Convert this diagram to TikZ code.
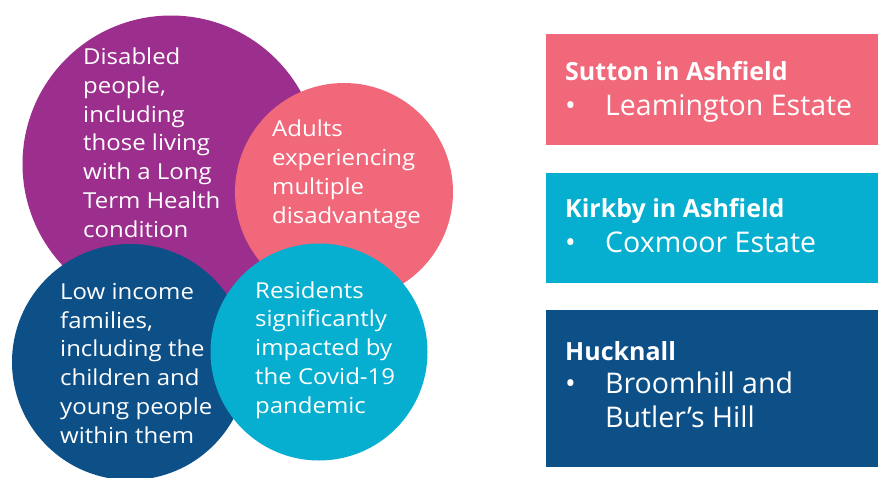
\documentclass[tikz,border=0pt]{standalone}
\usepackage{fontspec}
\setmainfont{Open Sans}
\newfontfamily\discfont[FakeStretch=1.09]{Open Sans}
\usetikzlibrary{positioning}
\definecolor{discpurple}{HTML}{9C2E8D}
\definecolor{disccoral}{HTML}{F0687A}
\definecolor{disccyan}{HTML}{06AECF}
\definecolor{discnavy}{HTML}{0D4F87}
\tikzset{
  disc/.style={circle,inner sep=0pt,minimum size=#1},
  % anchored on the baseline of the last line
  disctext/.style={anchor=base west,align=left,inner sep=0pt,text=white,
                   font=\discfont\fontsize{22}{28.7}\selectfont},
  areabox/.style={anchor=north west,inner sep=0pt,minimum width=332pt},
  areatitle/.style={anchor=base west,inner sep=0pt,text=white,
                    font=\fontsize{25}{34}\selectfont\bfseries},
  areaitem/.style={anchor=base west,align=left,inner sep=0pt,text=white,
                   font=\fontsize{28.5}{34}\selectfont}
}

\begin{document}
\begin{tikzpicture}[x=1pt,y=-1pt]
  \useasboundingbox (0,0) rectangle (878,477);

  % priority groups, back to front
  \node[disc=297pt,fill=discpurple] (disabled) at (171,164) {};
  \node[disc=218pt,fill=disccoral] (adults) at (344,192) {};
  \node[disc=236pt,fill=discnavy] (lowincome) at (130,362) {};
  \node[disc=217pt,fill=disccyan] (residents) at (319,352) {};

  \node[disctext] (disabledtext) at (83,237)
    {Disabled\\people,\\including\\those living\\with a Long\\Term Health\\condition};
  \node[disctext] (adultstext) at (272,223)
    {Adults\\experiencing\\multiple\\disadvantage};
  \node[disctext] (lowincometext) at (60,443)
    {Low income\\families,\\including the\\children and\\young people\\within them};
  \node[disctext] (residentstext) at (255,413)
    {Residents\\significantly\\impacted by\\the Covid-19\\pandemic};

  % places
  \node[areabox,fill=disccoral,minimum height=111pt] (sutton) at (546,34) {};
  \node[areabox,fill=disccyan,minimum height=110pt] (kirkby) at (546,173) {};
  \node[areabox,fill=discnavy,minimum height=157pt] (hucknall) at (546,310) {};

  \node[areatitle] (suttontitle) at (565,80) {Sutton in Ashfield};
  \node[areaitem] (suttonbullet) at (565,115) {•};
  \node[areaitem] (suttonitem) at (605,115) {Leamington Estate};

  \node[areatitle] (kirkbytitle) at (565,217) {Kirkby in Ashfield};
  \node[areaitem] (kirkbybullet) at (565,252) {•};
  \node[areaitem] (kirkbyitem) at (605,252) {Coxmoor Estate};

  \node[areatitle] (hucknalltitle) at (565,360) {Hucknall};
  \node[areaitem] (hucknallbullet) at (565,393) {•};
  \node[areaitem] (hucknallitem) at (605,427) {Broomhill and\\Butler’s Hill};
\end{tikzpicture}
\end{document}
